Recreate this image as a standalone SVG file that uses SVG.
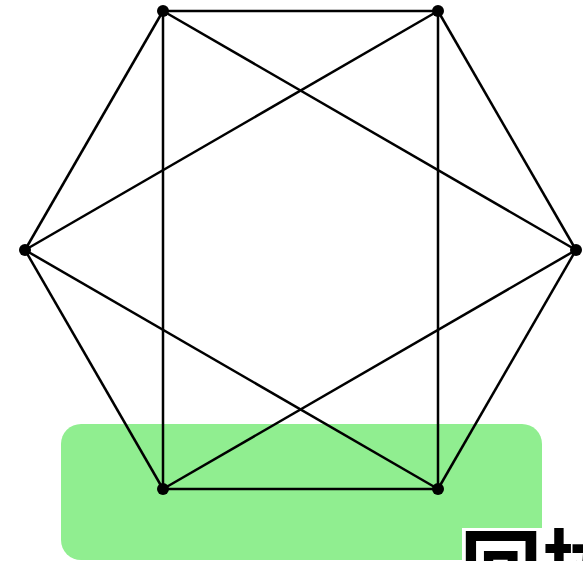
<svg xmlns="http://www.w3.org/2000/svg" width="583" height="561" viewBox="0 0 583 561">
<style>
.e{stroke:#000;stroke-width:2.5;fill:none}
.n{fill:#000}
.lbl{font-family:"Noto Sans CJK SC","Noto Sans",sans-serif;font-weight:bold;font-size:82px;fill:#000}
</style>
<rect x="61" y="424" width="481" height="136" rx="20" ry="20" fill="#90EE90"/>
<g id="edges">
<line class="e" x1="163" y1="11" x2="438" y2="11"/>
<line class="e" x1="163" y1="11" x2="25" y2="250"/>
<line class="e" x1="25" y1="250" x2="163" y2="489"/>
<line class="e" x1="163" y1="489" x2="438" y2="489"/>
<line class="e" x1="438" y1="489" x2="576" y2="250"/>
<line class="e" x1="576" y1="250" x2="438" y2="11"/>
<line class="e" x1="163" y1="11" x2="163" y2="489"/>
<line class="e" x1="438" y1="11" x2="438" y2="489"/>
<line class="e" x1="163" y1="11" x2="576" y2="250"/>
<line class="e" x1="438" y1="11" x2="25" y2="250"/>
<line class="e" x1="25" y1="250" x2="438" y2="489"/>
<line class="e" x1="576" y1="250" x2="163" y2="489"/>
</g>
<g id="n1"><circle class="n" cx="163" cy="11" r="6"/></g>
<g id="n2"><circle class="n" cx="438" cy="11" r="6"/></g>
<g id="n3"><circle class="n" cx="25" cy="250" r="6"/></g>
<g id="n4"><circle class="n" cx="576" cy="250" r="6"/></g>
<g id="n5"><circle class="n" cx="163" cy="489" r="6"/></g>
<g id="n6"><circle class="n" cx="438" cy="489" r="6"/></g>
<g id="label">
<rect x="462" y="528" width="121" height="33" fill="#fff"/>
<text class="lbl" x="460" y="598">回执</text>
</g>
</svg>
